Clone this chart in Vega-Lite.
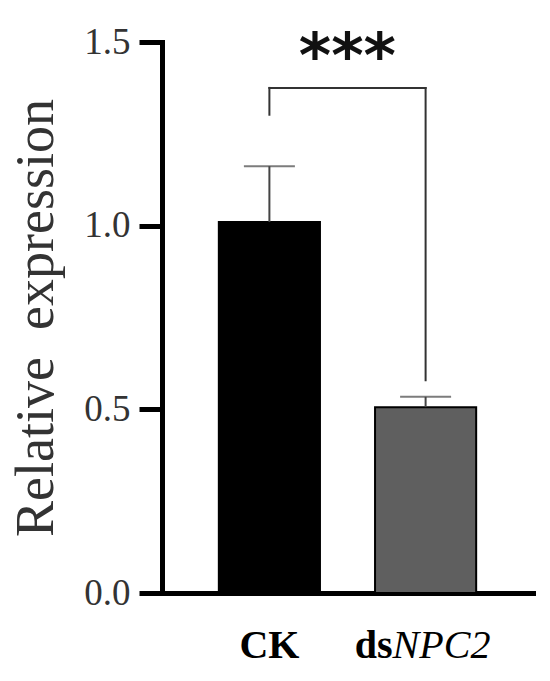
{
  "$schema": "https://vega.github.io/schema/vega-lite/v6.json",
  "autosize": "none",
  "padding": {"left": 162, "top": 42, "right": 17, "bottom": 88},
  "width": 371,
  "height": 551,
  "config": {"view": {"stroke": null}, "font": "Liberation Serif"},
  "datasets": {
    "bars": [
      {"group": "CK", "mean": 1.01, "upper": 1.162},
      {"group": "dsNPC2", "mean": 0.506, "upper": 0.534}
    ],
    "bracket": [
      {"from": "CK", "to": "CK", "y1": 1.302, "y2": 1.375},
      {"from": "CK", "to": "dsNPC2", "y1": 1.375, "y2": 1.375},
      {"from": "dsNPC2", "to": "dsNPC2", "y1": 0.579, "y2": 1.375}
    ],
    "stars": [{"group": "CK", "y": 1.405, "text": "***"}],
    "labels": [
      {"group": "CK", "text": "CK", "part": "plain"},
      {"group": "dsNPC2", "text": "ds", "part": "bold"},
      {"group": "dsNPC2", "text": "NPC2", "part": "italic"}
    ]
  },
  "encoding": {
    "x": {
      "field": "group",
      "type": "nominal",
      "scale": {"domain": ["CK", "dsNPC2"], "paddingInner": 0.3526, "paddingOuter": 0.3638},
      "axis": {
        "domainWidth": 5,
        "domainColor": "black",
        "domainCap": "square",
        "ticks": false,
        "labels": false,
        "title": null
      }
    }
  },
  "layer": [
    {
      "data": {"name": "bars"},
      "mark": {"type": "bar", "stroke": "black", "strokeWidth": 2},
      "encoding": {
        "y": {
          "field": "mean",
          "type": "quantitative",
          "scale": {"domain": [0, 1.5], "nice": false},
          "axis": {
            "values": [0, 0.5, 1, 1.5],
            "format": ".1f",
            "grid": false,
            "domainWidth": 5,
            "domainColor": "black",
            "domainCap": "square",
            "tickWidth": 5,
            "tickColor": "black",
            "tickSize": 23,
            "labelFont": "Liberation Serif",
            "labelFontSize": 37,
            "labelColor": "#333",
            "labelPadding": 9,
            "title": "Relative\u00a0 expression",
            "titleFont": "Liberation Serif",
            "titleFontSize": 54,
            "titleFontWeight": "normal",
            "titleColor": "#333",
            "titlePadding": 20
          }
        },
        "color": {
          "field": "group",
          "type": "nominal",
          "scale": {"domain": ["CK", "dsNPC2"], "range": ["#000000", "#5f5f5f"]},
          "legend": null
        }
      }
    },
    {
      "data": {"name": "bars"},
      "mark": {"type": "rule", "color": "#444", "strokeWidth": 2},
      "encoding": {
        "y": {"field": "mean", "type": "quantitative"},
        "y2": {"field": "upper"}
      }
    },
    {
      "data": {"name": "bars"},
      "mark": {"type": "tick", "orient": "horizontal", "size": 51, "thickness": 2, "color": "#444"},
      "encoding": {
        "y": {"field": "upper", "type": "quantitative"}
      }
    },
    {
      "data": {"name": "bracket"},
      "mark": {"type": "rule", "color": "#333", "strokeWidth": 2, "strokeCap": "square"},
      "encoding": {
        "x": {"field": "from", "type": "nominal"},
        "x2": {"field": "to"},
        "y": {"field": "y1", "type": "quantitative"},
        "y2": {"field": "y2"}
      }
    },
    {
      "data": {"name": "stars"},
      "mark": {"type": "text", "font": "DejaVu Sans", "fontWeight": "bold", "fontSize": 62, "align": "center", "baseline": "alphabetic", "dx": 78, "color": "#111"},
      "encoding": {
        "y": {"field": "y", "type": "quantitative"},
        "text": {"field": "text"}
      }
    },
    {
      "data": {"name": "labels"},
      "transform": [{"filter": "datum.part === 'plain'"}],
      "mark": {"type": "text", "font": "Liberation Serif", "fontWeight": "bold", "fontSize": 40, "align": "center", "baseline": "alphabetic", "dy": 65, "color": "#000"},
      "encoding": {
        "y": {"datum": 0, "type": "quantitative"},
        "text": {"field": "text"}
      }
    },
    {
      "data": {"name": "labels"},
      "transform": [{"filter": "datum.part === 'bold'"}],
      "mark": {"type": "text", "font": "Liberation Serif", "fontWeight": "bold", "fontSize": 40, "align": "right", "baseline": "alphabetic", "dx": -33, "dy": 65, "color": "#000"},
      "encoding": {
        "y": {"datum": 0, "type": "quantitative"},
        "text": {"field": "text"}
      }
    },
    {
      "data": {"name": "labels"},
      "transform": [{"filter": "datum.part === 'italic'"}],
      "mark": {"type": "text", "font": "Liberation Serif", "fontStyle": "italic", "fontSize": 40, "align": "left", "baseline": "alphabetic", "dx": -33, "dy": 65, "color": "#000"},
      "encoding": {
        "y": {"datum": 0, "type": "quantitative"},
        "text": {"field": "text"}
      }
    }
  ]
}
